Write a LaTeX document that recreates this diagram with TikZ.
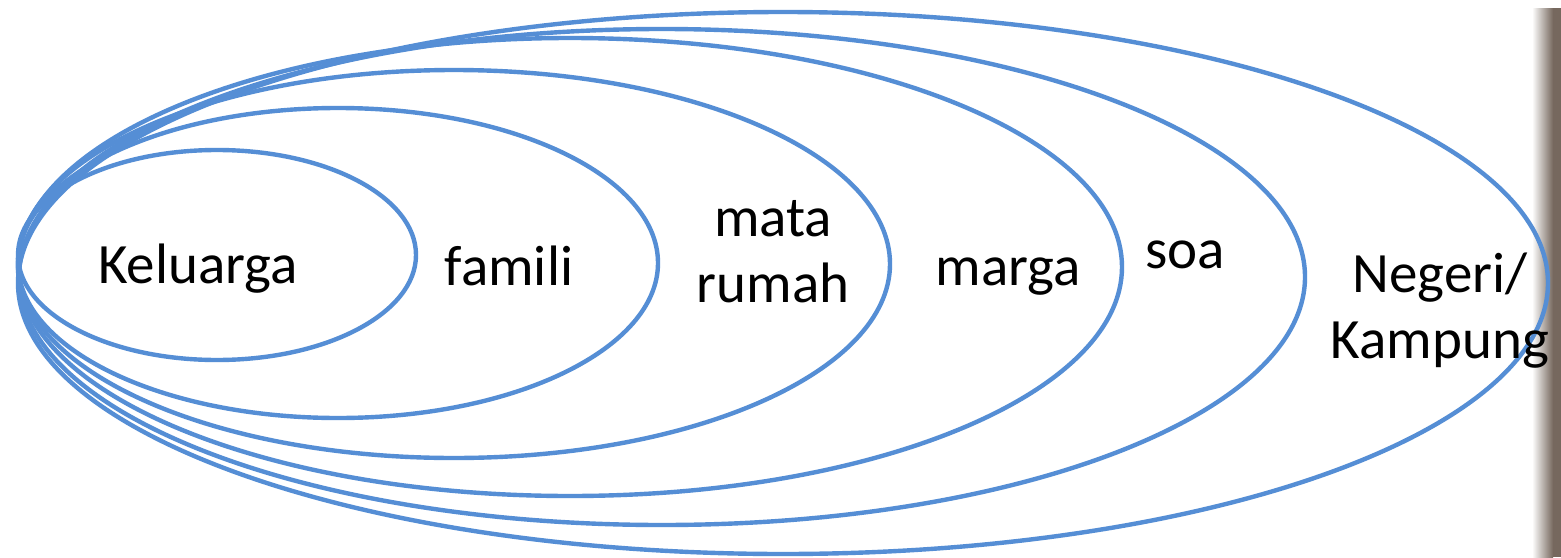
\documentclass[tikz,border=0pt]{standalone}
\usepackage{fontspec}
\setmainfont{Carlito}
\usetikzlibrary{shapes.geometric,shadings}
\definecolor{ringblue}{RGB}{85,142,213}
\definecolor{photobrown}{RGB}{118,104,94}
\tikzset{
  ring/.style={draw=ringblue, line width=4.4pt, ellipse, inner sep=0pt, fill=none},
  lbl/.style={font=\fontsize{57}{66}\selectfont, text=black, inner sep=0pt, align=center, anchor=base}
}
\begin{document}
\begin{tikzpicture}[x=1pt,y=-1pt]
\useasboundingbox (0,0) rectangle (1561,557);
\fill[white] (0,0) rectangle (1561,557);
% blurred photo edge on the right
\shade[left color=white, right color=photobrown] (1532,8) rectangle (1553,557);
\fill[photobrown] (1553,8) rectangle (1561,557);
% nested ellipses
\node[ring, minimum width=1530pt, minimum height=542pt] (negeri) at (783,283) {};
\node[ring, minimum width=1286pt, minimum height=496pt] (soa) at (662,277) {};
\node[ring, minimum width=1104pt, minimum height=458pt] (marga) at (570,267) {};
\node[ring, minimum width=872pt, minimum height=388pt] (mata) at (454,264) {};
\node[ring, minimum width=640pt, minimum height=310pt] (famili) at (338,263) {};
\node[ring, minimum width=398pt, minimum height=210pt] (keluarga) at (217,255) {};
% labels
\node[lbl] (tkeluarga) at (198,283) {Keluarga};
\node[lbl] (tfamili) at (509,285) {famili};
\node[lbl] (tmata) at (773,302) {mata\\rumah};
\node[lbl] (tmarga) at (1008,285) {marga};
\node[lbl] (tsoa) at (1185,268) {soa};
\node[lbl] (tnegeri) at (1440,358) {Negeri/\\Kampung};
\end{tikzpicture}
\end{document}
